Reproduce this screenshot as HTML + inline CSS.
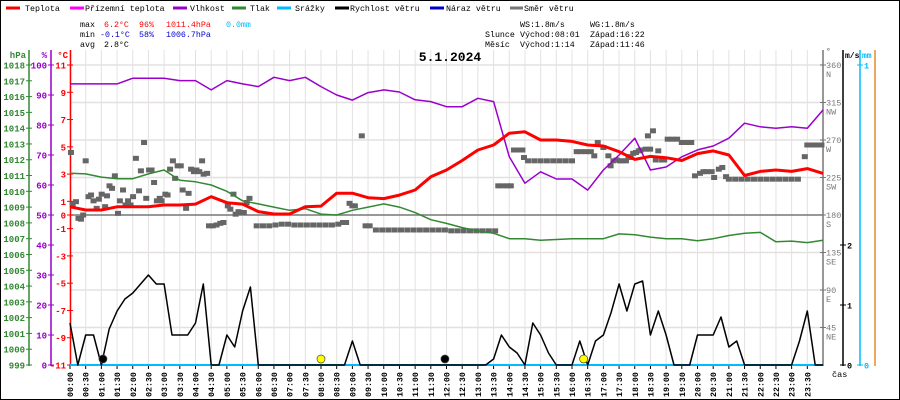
<!DOCTYPE html>
<html><head><meta charset="utf-8"><style>
html,body{margin:0;padding:0;background:#fff}
svg{display:block}
text{font-family:"Liberation Mono",monospace}
</style></head><body>
<svg id="c" width="900" height="400" viewBox="0 0 900 400" xmlns="http://www.w3.org/2000/svg">
<rect x="0.5" y="0.5" width="899" height="399" fill="#fff" stroke="#000"/>
<g id="grid"></g>
<g id="legend" font-size="8.3">
 <line x1="6" y1="8" x2="20" y2="8" stroke="#f00" stroke-width="3"/><text x="25" y="11">Teplota</text>
 <line x1="70" y1="8" x2="84" y2="8" stroke="#f0f" stroke-width="3"/><text x="85" y="11">Přízemní teplota</text>
 <line x1="173" y1="8" x2="187" y2="8" stroke="#90c" stroke-width="3"/><text x="190" y="11">Vlhkost</text>
 <line x1="232" y1="8" x2="246" y2="8" stroke="#383" stroke-width="3"/><text x="250" y="11">Tlak</text>
 <line x1="277" y1="8" x2="291" y2="8" stroke="#0bf" stroke-width="3"/><text x="295" y="11">Srážky</text>
 <line x1="335" y1="8" x2="349" y2="8" stroke="#000" stroke-width="3"/><text x="350" y="11">Rychlost větru</text>
 <line x1="430" y1="8" x2="444" y2="8" stroke="#00c" stroke-width="3"/><text x="446" y="11">Náraz větru</text>
 <line x1="510" y1="8" x2="523" y2="8" stroke="#777" stroke-width="3"/><text x="524" y="11">Směr větru</text>
</g>
<g id="stats" font-size="8.3">
 <text x="80" y="27">max</text><text x="104" y="27" fill="#f00">6.2°C</text><text x="139" y="27" fill="#f00">96%</text><text x="166" y="27" fill="#f00">1011.4hPa</text><text x="226" y="27" fill="#0bf">0.0mm</text>
 <text x="80" y="37">min</text><text x="100" y="37" fill="#00c">-0.1°C</text><text x="139" y="37" fill="#00c">58%</text><text x="166" y="37" fill="#00c">1006.7hPa</text>
 <text x="80" y="47">avg</text><text x="104" y="47">2.8°C</text>
 <text x="520" y="27">WS:1.8m/s</text><text x="590" y="27">WG:1.8m/s</text>
 <text x="485" y="37">Slunce</text><text x="520" y="37">Východ:08:01</text><text x="590" y="37">Západ:16:22</text>
 <text x="485" y="47">Měsíc</text><text x="520" y="47">Východ:1:14</text><text x="590" y="47">Západ:11:46</text>
</g>
<text x="450" y="61" text-anchor="middle" font-size="13" font-weight="bold">5.1.2024</text>
<g id="axes"></g>
<g id="series"></g>
</svg>
<script>
const NS="http://www.w3.org/2000/svg";
const tempVals=[0.6,0.37,0.37,0.6,0.6,0.6,0.73,0.73,0.8,1.34,0.9,0.8,0.25,0.07,0.07,0.6,0.65,1.6,1.6,1.27,1.2,1.46,1.83,2.8,3.3,4.0,4.77,5.13,6.0,6.1,5.5,5.5,5.4,5.13,5.06,4.64,4.08,4.3,4.2,4.0,4.5,4.7,4.4,2.9,3.2,3.3,3.2,3.4,3.05];
const humVals=[93.7,93.7,93.7,93.7,95.6,95.6,95.6,94.8,94.8,91.7,94.8,93.7,92.8,95.9,94.8,95.9,92.8,90,88.3,90.8,91.7,91,88.4,87.8,86.1,86.1,88.9,87.8,69.4,60.6,64.4,62,62,58.3,65,70,75.6,65,66,69.4,71.7,73,75.6,80.6,79.4,78.9,79.4,78.9,85];
const presVals=[1011.14,1011.1,1010.9,1010.8,1010.8,1011.1,1011.35,1010.7,1010.6,1010.4,1010.0,1009.4,1009.2,1009.0,1008.8,1008.9,1008.56,1008.5,1008.8,1009.0,1009.2,1009.0,1008.65,1008.2,1007.97,1007.7,1007.5,1007.34,1007.0,1007.0,1006.9,1006.95,1007.0,1007.0,1007.0,1007.3,1007.25,1007.1,1007.0,1007.0,1006.87,1007.0,1007.2,1007.34,1007.4,1006.8,1006.85,1006.75,1006.9];
const windVals=[0.7,0,0.5,0.5,0,0.6,0.9,1.1,1.2,1.35,1.5,1.35,1.35,0.5,0.5,0.5,0.7,1.35,0,0,0.5,0.3,0.9,1.3,0,
0,0,0,0,0,0,0,0,0,0,0,0.4,0,0,0,0,0,0,0,0,0,0,0,0,0,0,0,0,0,
0.1,0.5,0.3,0.2,0,0.7,0.5,0.2,0,0,0,0.4,0,0.4,0.5,0.88,1.35,0.9,1.35,1.4,0.5,0.9,0.5,0,0,0,0.5,0.5,0.5,0.8,0.3,0.4,0,
0,0,0,0,0,0,0.4,0.9,0,0];
const dirTimes=[0.03,0.085,0.19,0.27,0.35,0.42,0.5,0.59,0.67,0.75,0.85,0.92,1.01,1.12,1.18,1.26,1.34,1.43,1.53,1.59,1.69,1.77,1.85,1.93,2.01,2.1,2.2,2.26,2.36,2.43,2.52,2.6,2.68,2.77,2.86,2.92,3.04,3.11,3.19,3.28,3.35,3.43,3.53,3.59,3.7,3.78,3.86,3.95,4.03,4.12,4.21,4.26,4.37,4.43,4.55,4.67,4.79,4.89,5.03,5.11,5.21,5.28,5.37,5.45,5.54,5.63,5.72,
5.95,6.15,6.35,6.55,6.75,6.95,7.15,7.35,7.55,7.75,7.95,8.15,8.35,8.55,8.7,8.8,8.91,9.0,9.08,9.3,9.42,9.55,
9.75,9.95,10.15,10.35,10.55,10.75,10.95,11.15,11.35,11.55,11.75,11.95,12.15,12.35,12.55,12.75,12.95,13.15,13.35,13.55,
13.65,13.8,13.95,14.05,14.15,14.3,14.42,14.47,14.6,14.8,15.0,15.2,15.4,15.6,15.8,16.0,16.15,16.3,16.45,16.6,16.71,16.82,17.0,17.16,17.23,17.32,17.42,17.53,17.6,17.72,17.8,17.87,17.95,18.04,18.13,18.19,18.35,18.42,18.49,18.58,18.67,18.75,18.87,18.94,
19.05,19.2,19.35,19.5,19.65,19.8,19.92,20.08,20.19,20.29,20.45,20.53,20.68,20.79,20.91,
21.0,21.2,21.4,21.6,21.8,22.0,22.2,22.4,22.6,22.8,23.0,23.2,23.42,23.5,23.65,23.8,23.95];
const dirVals=[255,193,196,176,175,180,245,202,204,197,188,199,205,190,203,215,212,227,182,197,210,192,197,192,202,248,209,233,267,200,234,234,219,197,200,197,205,204,235,245,224,239,239,210,188,206,235,232,234,232,245,229,230,167,167,168,170,171,191,187,205,181,184,183,183,195,200,
167,167,167,168,169,169,168,168,168,168,168,168,168,169,171,171,194,191,191,275,167,167,
162,162,162,162,162,162,162,162,162,162,162,162,161,161,161,161,161,161,161,161,
215,215,215,215,258,258,258,249,245,245,245,245,245,245,245,245,256,256,256,256,251,267,261,251,239,245,246,245,245,245,250,249,254,255,257,258,259,275,259,281,246,257,246,246,
271,271,271,267,267,267,227,230,232,232,232,225,235,237,226,
223,223,223,223,223,223,223,223,223,223,223,223,250,264,264,264,264];
const timeLabels=[];for(let i=0;i<48;i++){const h=Math.floor(i/2);timeLabels.push((h<10?'0':'')+h+':'+(i%2?'30':'00'));}
const hpaTicks=[999,1000,1001,1002,1003,1004,1005,1006,1007,1008,1009,1010,1011,1012,1013,1014,1015,1016,1017,1018];
const humTicks=[0,10,20,30,40,50,60,70,80,90,100];
const tempTicks=[11,9,7,5,3,1,0,-1,-3,-5,-7,-9,-11];
const dirTicks=[[360,'N'],[315,'NW'],[270,'W'],[225,'SW'],[180,'S'],[135,'SE'],[90,'E'],[45,'NE']];

const X0=70,X1=823,Y0=65,Y1=365;
const xh=h=>X0+h*(X1-X0)/24;
const yT=t=>215-t*(300/22);
const yH=v=>Y1-v*3;
const yP=p=>Y1-(p-999)*(300/19);
const yD=d=>Y1-d*(300/360);
const yW=v=>Y1-v*60;
function el(parent,tag,attrs,text){const e=document.createElementNS(NS,tag);for(const k in attrs)e.setAttribute(k,attrs[k]);if(text!==undefined)e.textContent=text;parent.appendChild(e);return e;}
const grid=document.getElementById('grid'),axes=document.getElementById('axes'),ser=document.getElementById('series');
// grid
for(let i=0;i<=48;i++){const x=xh(i/2);const g=el(grid,'line',{x1:x,y1:50,x2:x,y2:Y1,stroke:'#e4e0e0','stroke-width':1});

}
for(let d=0;d<=360;d+=45){const y=yD(d);const g=el(grid,'line',{x1:X0,y1:y,x2:X1,y2:y,stroke:d==180?'#777':'#e4e0e0','stroke-width':d==180?1.5:1.5});

}
// axes lines
function axisLine(x,color,name,top){const a=el(axes,'line',{x1:x,y1:top,x2:x,y2:Y1+1,stroke:color,'stroke-width':1.5});

}
axisLine(29,'#383','pressure-axis',50);axisLine(51,'#90c','humidity-axis',50);axisLine(70.5,'#f00','temperature-axis',50);
axisLine(823,'#777','wind-dir-axis',50);axisLine(843,'#000','wind-speed-axis',50);axisLine(860,'#0bf','precip-axis',50);axisLine(875,'#e88a2a','orange-axis',50);
const lab=(x,y,t,c,anchor,name,fs)=>{const e=el(axes,'text',{x:x,y:y,fill:c,'font-size':fs||9,'text-anchor':anchor||'end','font-weight':'bold'},t);

return e;};
lab(26,58,'hPa','#383','end','pressure-unit');lab(47,58,'%','#90c','end','humidity-unit');lab(68,58,'°C','#f00','end','temperature-unit');
hpaTicks.forEach(p=>{const y=yP(p);el(axes,'line',{x1:26,y1:y,x2:32,y2:y,stroke:'#383'});lab(25,y+3.5,String(p),'#383','end','pressure-tick');});
humTicks.forEach(v=>{const y=yH(v);el(axes,'line',{x1:48,y1:y,x2:54,y2:y,stroke:'#90c'});lab(47,y+3.5,String(v),'#90c','end','humidity-tick');});
tempTicks.forEach(v=>{const y=yT(v);el(axes,'line',{x1:67,y1:y,x2:73,y2:y,stroke:'#f00'});lab(66,y+3.5,String(v),'#f00','end','temperature-tick');});
lab(826,54,'°','#777','start','wind-dir-unit',8);
dirTicks.forEach(([d,n])=>{const y=yD(d);el(axes,'line',{x1:820,y1:y,x2:826,y2:y,stroke:'#777'});lab(826,y+3,String(d),'#777','start','wind-dir-tick',8.5).setAttribute('font-weight','normal');lab(826,y+12,n,'#777','start','wind-dir-label',8.5).setAttribute('font-weight','normal');});
lab(845,58,'m/s','#000','start','wind-speed-unit',8);
[0,1,2].forEach(v=>{const y=yW(v);el(axes,'line',{x1:840,y1:y,x2:846,y2:y,stroke:'#000'});lab(847,y+3.5,String(v),'#000','start','wind-speed-tick',8.5);});
lab(862,58,'mm','#0bf','start','precip-unit',8);
[[0,Y1],[1,Y0]].forEach(([v,y])=>{el(axes,'line',{x1:857,y1:y,x2:863,y2:y,stroke:'#0bf'});lab(864,y+3.5,String(v),'#0bf','start','precip-tick',8.5);});
lab(832,377,'čas','#000','start','time-axis-title',8.5).setAttribute('font-weight','normal');
timeLabels.forEach((t,i)=>{const x=xh(i/2);el(axes,'line',{x1:x,y1:Y1,x2:x,y2:Y1+4,stroke:'#000'});
const e=el(axes,'text',{x:0,y:0,'font-size':8.3,'font-weight':'bold',transform:`translate(${x+3},397) rotate(-90)`},t);

});
// precip baseline
const pr=el(ser,'line',{x1:X0,y1:Y1,x2:X1,y2:Y1,stroke:'#0bf','stroke-width':2});


function poly(vals,step,fy,color,w,name){const pts=vals.map((v,i)=>xh(i*step).toFixed(1)+','+fy(v).toFixed(1)).join(' ');
const p=el(ser,'polyline',{points:pts,fill:'none',stroke:color,'stroke-width':w,'stroke-linejoin':'round'});

}
// wind direction squares
dirTimes.forEach((h,i)=>{const r=el(ser,'rect',{x:xh(h)-3,y:yD(dirVals[i])-2.5,width:6,height:5,fill:'#666'});

});
poly(presVals,0.5,yP,'#383',1.5,'pressure-line');
poly(humVals,0.5,yH,'#90c',1.5,'humidity-line');
poly(tempVals,0.5,yT,'#f00',3,'temperature-line');
poly(windVals,0.25,yW,'#000',1.5,'wind-speed-line');
// sun / moon markers
[[1.05,'#000','moonrise-marker'],[11.95,'#000','moonset-marker'],[8.0,'#ff0','sunrise-marker'],[16.37,'#ff0','sunset-marker']].forEach(([h,c,n])=>{
const m=el(ser,'circle',{cx:xh(h),cy:359,r:4,fill:c,stroke:'#444','stroke-width':0.7});

});
</script>
</body></html>
